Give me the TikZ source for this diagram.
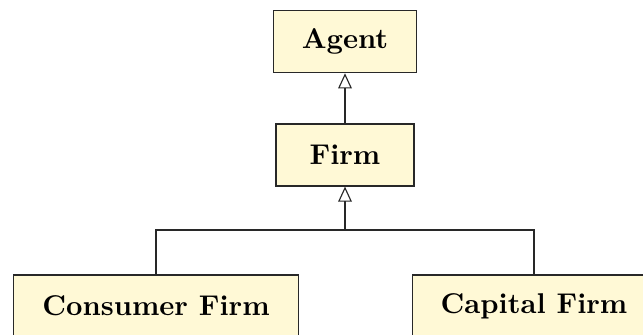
\documentclass[tikz,border=0pt]{standalone}
\usetikzlibrary{arrows.meta}
\definecolor{boxfill}{RGB}{255,249,214}
\definecolor{boxline}{RGB}{40,40,40}
\tikzset{
  classbox/.style={draw=boxline, fill=boxfill, line width=0.4pt,
    minimum height=21.7pt, inner xsep=10pt, font=\bfseries},
  link/.style={draw=boxline, line width=0.4pt},
  inherit/.style={link, -{Triangle[open, length=5.3pt, width=4.8pt]}}
}
\begin{document}
\begin{tikzpicture}[x=0.35pt, y=-0.35pt]
  \useasboundingbox (0,0) rectangle (643,334);
  \clip (0,0) rectangle (643,334);

  % class boxes
  \node[classbox, minimum width=49.3pt] (agent) at (345,41.7) {Agent};
  \node[classbox, minimum width=48.3pt] (firm) at (345,155) {Firm};
  \node[classbox, minimum width=99.4pt] (cons) at (156,306) {Consumer Firm};
  \node[classbox, minimum width=85.2pt] (cap) at (534,306) {Capital Firm};

  % junction where both subclasses meet
  \coordinate (j) at (345,230);

  % generalisation connectors
  \draw[inherit] (firm.north) -- (agent.south);
  \draw[link] (cons.north) |- (j);
  \draw[link] (cap.north) |- (j);
  \draw[inherit] (j) -- (firm.south);
\end{tikzpicture}
\end{document}
